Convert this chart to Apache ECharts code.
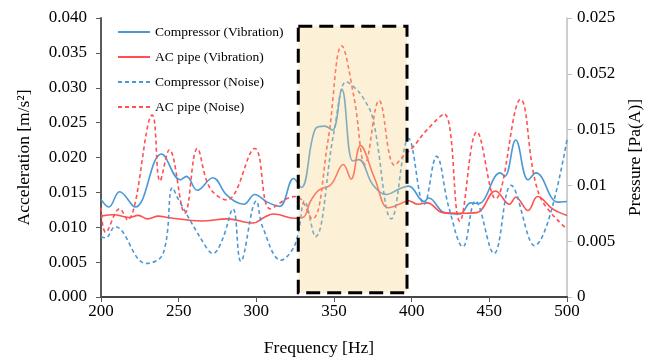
<!DOCTYPE html>
<html>
<head>
<meta charset="utf-8">
<script src="https://cdn.jsdelivr.net/npm/echarts@6/dist/echarts.min.js"></script>
<style>html,body{margin:0;padding:0;background:#fff}#c{width:654px;height:362px}</style>
</head>
<body>
<div id="c"></div>
<script>
// ---- data ----
const seriesNames = ['Compressor (Vibration)', 'AC pipe (Vibration)', 'Compressor (Noise)', 'AC pipe (Noise)'];

const compVibHz  = [200, 205, 212, 222, 239, 251, 255, 262, 272, 281, 292, 299, 307, 315, 324, 329, 338, 344, 349, 355, 362, 366, 375, 384, 392, 398, 408, 411, 421, 431, 438, 443, 457, 460, 467, 475, 480, 494, 500];
const compVibVal = [0.0140, 0.0129, 0.0151, 0.0129, 0.0205, 0.0168, 0.0173, 0.0153, 0.0171, 0.0146, 0.0133, 0.0147, 0.0136, 0.0130, 0.0170, 0.0157, 0.0241, 0.0245, 0.0239, 0.0298, 0.0195, 0.0197, 0.0161, 0.0147, 0.0155, 0.0159, 0.0137, 0.0142, 0.0121, 0.0119, 0.0135, 0.0134, 0.0178, 0.0173, 0.0225, 0.0168, 0.0178, 0.0136, 0.0137];

const acVibHz  = [200, 208, 218, 224, 230, 237, 243, 265, 281, 298, 305, 311, 315, 324, 330, 335, 340, 348, 356, 361, 367, 376, 385, 392, 398, 404, 410, 420, 431, 442, 454, 463, 467, 475, 481, 491, 500];
const acVibVal = [0.0116, 0.0118, 0.0114, 0.0117, 0.0112, 0.0116, 0.0114, 0.0109, 0.0112, 0.0106, 0.0114, 0.0119, 0.0118, 0.0113, 0.0114, 0.0138, 0.0153, 0.0161, 0.0190, 0.0169, 0.0217, 0.0171, 0.0128, 0.0133, 0.0138, 0.0133, 0.0135, 0.0121, 0.0120, 0.0121, 0.0152, 0.0133, 0.0143, 0.0124, 0.0144, 0.0126, 0.0117];

const compNoiseHz  = [200, 203, 209, 229, 240, 246, 250, 268, 272, 278, 285, 290, 300, 304, 316, 323, 327, 331, 338, 350, 358, 363, 369, 375, 387, 398, 408, 416, 424, 433, 441, 453, 464, 479, 500];
const compNoiseVal = [0.0054, 0.0053, 0.0063, 0.0030, 0.0039, 0.0098, 0.0087, 0.0044, 0.0039, 0.0051, 0.0079, 0.0032, 0.0086, 0.0063, 0.0033, 0.0042, 0.0057, 0.0086, 0.0054, 0.0148, 0.0193, 0.0188, 0.0178, 0.0160, 0.0070, 0.0142, 0.0083, 0.0126, 0.0080, 0.0045, 0.0086, 0.0039, 0.0100, 0.0046, 0.0141];

const acNoiseHz  = [200, 203, 212, 217, 233, 238, 244, 254, 262, 270, 281, 299, 309, 321, 326, 336, 346, 355, 363, 370, 379, 389, 395, 400, 410, 421, 431, 442, 454, 470, 482, 500];
const acNoiseVal = [0.0080, 0.0058, 0.0079, 0.0069, 0.0163, 0.0104, 0.0132, 0.0075, 0.0133, 0.0098, 0.0087, 0.0133, 0.0079, 0.0089, 0.0090, 0.0070, 0.0139, 0.0225, 0.0178, 0.0119, 0.0176, 0.0118, 0.0127, 0.0133, 0.0150, 0.0164, 0.0068, 0.0148, 0.0088, 0.0177, 0.0092, 0.0061];

const rightTickLabels = ['0', '0.005', '0.01', '0.015', '0.052', '0.025'];
const boxHz  = [327, 397];
const boxVal = [0.0006, 0.0388];

// ---- chart ----
const zip = (xs, ys) => xs.map((x, i) => [x, ys[i]]);
const BLUE = '#4A98D6', RED = '#FF4F4F';
const FONT = 'Liberation Serif';
const chart = echarts.init(document.getElementById('c'), null, {renderer: 'canvas'});

const lineSeries = (name, data, color, dashed, yIdx) => ({
  name, type: 'line', data, yAxisIndex: yIdx, smooth: 0.4,
  showSymbol: false, symbol: 'none', z: 2,
  lineStyle: {color, width: 1.6, type: dashed ? [4, 3] : 'solid'},
  itemStyle: {color}
});

chart.setOption({
  animation: false,
  grid: {left: 101, right: 87, top: 18, bottom: 61},
  legend: {
    data: seriesNames, orient: 'vertical', left: 117, top: 25, padding: 0,
    itemWidth: 32, itemHeight: 14, itemGap: 11,
    itemStyle: {opacity: 0},
    textStyle: {fontFamily: FONT, fontSize: 13.5, color: '#000'}
  },
  xAxis: [{
    type: 'value', min: 200, max: 500, interval: 50,
    name: 'Frequency [Hz]', nameLocation: 'middle', nameGap: 42,
    nameTextStyle: {fontFamily: FONT, fontSize: 17.5, color: '#000', padding: [0, 30, 0, 0]},
    axisLine: {show: true, lineStyle: {color: '#595959', width: 2}},
    axisTick: {show: true, length: 5, lineStyle: {color: '#595959'}},
    axisLabel: {fontFamily: FONT, fontSize: 17, color: '#000', margin: 6},
    splitLine: {show: false}
  }, {
    type: 'value', min: 200, max: 500, position: 'top',
    axisLine: {show: true, lineStyle: {color: '#404040', width: 1.5}},
    axisTick: {show: false}, axisLabel: {show: false}, splitLine: {show: false}
  }],
  yAxis: [{
    type: 'value', min: 0, max: 0.04, interval: 0.005,
    name: 'Acceleration [m/s²]', nameLocation: 'middle', nameGap: 68,
    nameTextStyle: {fontFamily: FONT, fontSize: 17.5, color: '#000'},
    axisLine: {show: true, lineStyle: {color: '#595959', width: 2}},
    axisTick: {show: true, length: 5, lineStyle: {color: '#595959'}},
    axisLabel: {fontFamily: FONT, fontSize: 17, color: '#000', margin: 14,
      formatter: v => v.toFixed(3)},
    splitLine: {show: false}
  }, {
    type: 'value', min: 0, max: 0.025, interval: 0.005, position: 'right',
    name: 'Pressure [Pa(A)]', nameLocation: 'middle', nameGap: 58, nameRotate: 90,
    nameTextStyle: {fontFamily: FONT, fontSize: 17.5, color: '#000'},
    axisLine: {show: true, lineStyle: {color: '#BFBFBF', width: 1.5}},
    axisTick: {show: true, length: 5, lineStyle: {color: '#BFBFBF'}},
    axisLabel: {fontFamily: FONT, fontSize: 17, color: '#000', margin: 10,
      formatter: (v) => rightTickLabels[Math.round(v / 0.005)]},
    splitLine: {show: false}
  }],
  series: [
    lineSeries(seriesNames[0], zip(compVibHz, compVibVal), BLUE, false, 0),
    lineSeries(seriesNames[1], zip(acVibHz, acVibVal), RED, false, 0),
    lineSeries(seriesNames[2], zip(compNoiseHz, compNoiseVal), BLUE, true, 1),
    lineSeries(seriesNames[3], zip(acNoiseHz, acNoiseVal), RED, true, 1),
    {
      name: 'box', type: 'line', data: [], yAxisIndex: 0, z: 10,
      markArea: {
        silent: true, z: 10,
        itemStyle: {color: 'rgba(247,214,135,0.33)', borderColor: '#000', borderWidth: 3, borderType: [14, 7]},
        data: [[{xAxis: boxHz[0], yAxis: boxVal[1]}, {xAxis: boxHz[1], yAxis: boxVal[0]}]]
      }
    }
  ]
});
</script>
</body>
</html>
